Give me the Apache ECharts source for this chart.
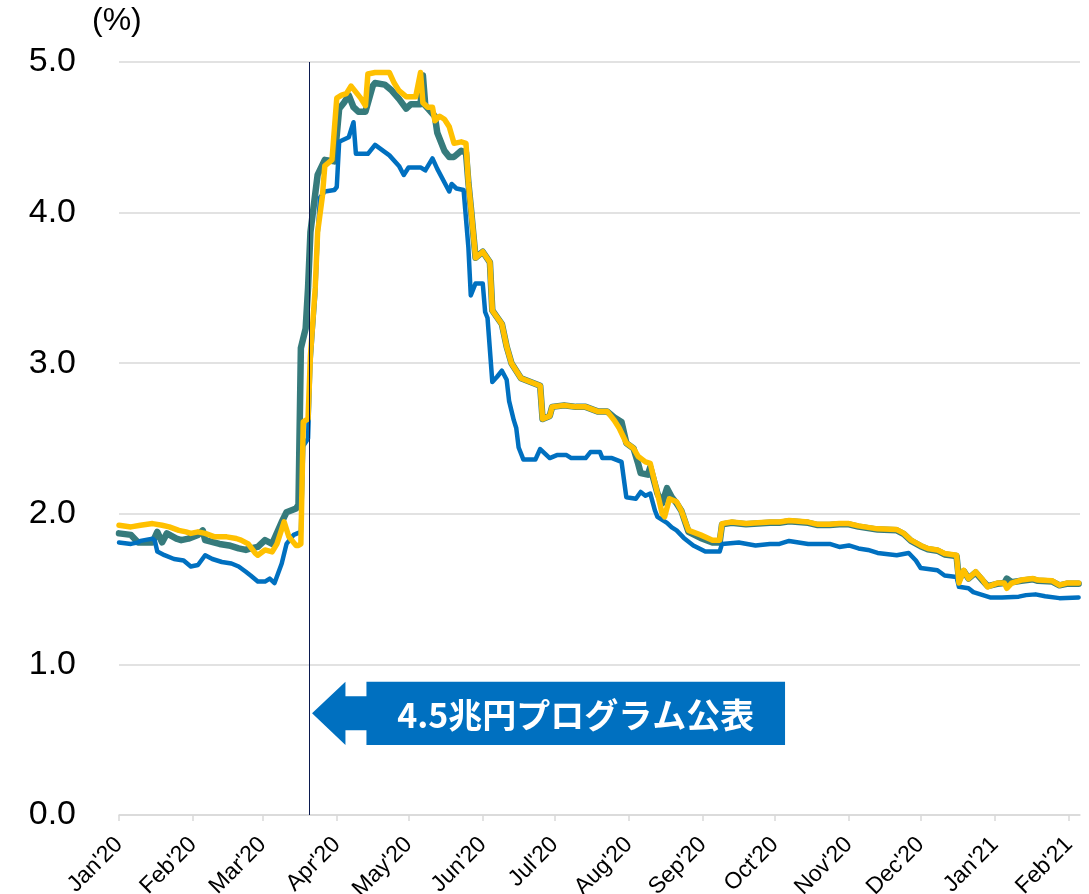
<!DOCTYPE html>
<html>
<head>
<meta charset="utf-8">
<script src="https://cdn.jsdelivr.net/npm/echarts@6/dist/echarts.min.js"></script>
<style>
html,body{margin:0;padding:0;background:#fff;}
#main{width:1089px;height:894px;}
</style>
</head>
<body>
<div id="main"></div>
<script>
// ---- tick labels ----
const monthTickDates = ['2020-01-01','2020-02-01','2020-03-01','2020-04-01','2020-05-01','2020-06-01','2020-07-01','2020-08-01','2020-09-01','2020-10-01','2020-11-01','2020-12-01','2021-01-01','2021-02-01'];
const monthTickLabels = ["Jan'20","Feb'20","Mar'20","Apr'20","May'20","Jun'20","Jul'20","Aug'20","Sep'20","Oct'20","Nov'20","Dec'20","Jan'21","Feb'21"];
const yTicks = [0,1,2,3,4,5];
const unitLabel = '(%)';
const axisStartDate = '2020-01-01';
const axisEndDate = '2021-02-05 14:00';
const annotationDate = '2020-03-20 10:00';
const annotationText = '4.5兆円プログラム公表';

// ---- series values (date, %) ----
const blueSeries = [
['2020-01-01',1.81],['2020-01-06',1.80],['2020-01-09',1.81],['2020-01-10',1.82],['2020-01-15',1.835],['2020-01-16',1.82],
['2020-01-17',1.75],['2020-01-20',1.725],['2020-01-24',1.70],['2020-01-28',1.69],['2020-01-31',1.65],['2020-02-03',1.66],
['2020-02-06',1.725],['2020-02-09',1.70],['2020-02-13',1.68],['2020-02-17',1.67],['2020-02-20',1.65],['2020-02-23',1.615],
['2020-02-25',1.59],['2020-02-28',1.55],['2020-03-02',1.55],['2020-03-04',1.57],['2020-03-06',1.54],['2020-03-09',1.67],
['2020-03-11',1.80],['2020-03-14',1.86],['2020-03-17',1.88],['2020-03-18',2.45],['2020-03-20',2.50],['2020-03-21',3.00],
['2020-03-23',3.45],['2020-03-24',3.85],['2020-03-25',4.10],['2020-03-27',4.14],['2020-03-31',4.15],['2020-04-01',4.17],
['2020-04-02',4.47],['2020-04-06',4.50],['2020-04-08',4.60],['2020-04-09',4.39],['2020-04-14',4.39],['2020-04-17',4.45],
['2020-04-23',4.38],['2020-04-27',4.31],['2020-04-29',4.25],['2020-05-01',4.30],['2020-05-06',4.30],['2020-05-08',4.28],
['2020-05-11',4.36],['2020-05-13',4.29],['2020-05-18',4.14],['2020-05-19',4.19],['2020-05-21',4.16],['2020-05-24',4.15],
['2020-05-26',3.77],['2020-05-27',3.45],['2020-05-29',3.53],['2020-06-01',3.53],['2020-06-02',3.34],['2020-06-03',3.30],
['2020-06-05',2.875],['2020-06-07',2.91],['2020-06-09',2.95],['2020-06-11',2.89],['2020-06-12',2.75],['2020-06-14',2.62],
['2020-06-15',2.57],['2020-06-16',2.44],['2020-06-18',2.36],['2020-06-23',2.36],['2020-06-25',2.43],['2020-06-29',2.37],
['2020-07-02',2.39],['2020-07-06',2.39],['2020-07-08',2.37],['2020-07-14',2.37],['2020-07-16',2.41],['2020-07-20',2.41],
['2020-07-21',2.37],['2020-07-25',2.37],['2020-07-29',2.345],['2020-07-31',2.11],['2020-08-04',2.10],['2020-08-06',2.145],
['2020-08-08',2.12],['2020-08-10',2.135],['2020-08-12',2.02],['2020-08-13',1.98],['2020-08-17',1.94],['2020-08-19',1.91],
['2020-08-21',1.89],['2020-08-24',1.84],['2020-08-28',1.79],['2020-09-02',1.75],['2020-09-08',1.75],['2020-09-09',1.80],
['2020-09-16',1.81],['2020-09-23',1.79],['2020-09-29',1.80],['2020-10-03',1.80],['2020-10-07',1.82],['2020-10-11',1.81],
['2020-10-15',1.80],['2020-10-19',1.80],['2020-10-24',1.80],['2020-10-28',1.78],['2020-11-01',1.79],['2020-11-05',1.77],
['2020-11-09',1.76],['2020-11-13',1.74],['2020-11-21',1.725],['2020-11-26',1.74],['2020-11-29',1.69],['2020-12-01',1.64],
['2020-12-08',1.625],['2020-12-11',1.59],['2020-12-16',1.58],['2020-12-17',1.515],['2020-12-21',1.505],['2020-12-23',1.48],
['2020-12-30',1.445],['2021-01-04',1.445],['2021-01-11',1.45],['2021-01-14',1.46],['2021-01-18',1.465],['2021-01-22',1.453],
['2021-01-28',1.44],['2021-02-05',1.445]
];

const tealSeries = [
['2020-01-01',1.87],['2020-01-06',1.86],['2020-01-09',1.81],['2020-01-15',1.81],['2020-01-17',1.88],['2020-01-19',1.81],
['2020-01-21',1.87],['2020-01-25',1.835],['2020-01-27',1.825],['2020-01-30',1.835],['2020-02-03',1.86],['2020-02-05',1.89],
['2020-02-06',1.825],['2020-02-12',1.80],['2020-02-16',1.79],['2020-02-20',1.77],['2020-02-23',1.76],['2020-02-25',1.77],
['2020-02-28',1.78],['2020-03-02',1.825],['2020-03-05',1.80],['2020-03-09',1.946],['2020-03-11',2.01],['2020-03-15',2.035],
['2020-03-16',2.06],['2020-03-17',3.10],['2020-03-19',3.23],['2020-03-20',3.50],['2020-03-21',3.87],['2020-03-24',4.25],
['2020-03-27',4.35],['2020-03-31',4.34],['2020-04-02',4.69],['2020-04-04',4.73],['2020-04-06',4.78],['2020-04-08',4.70],
['2020-04-10',4.67],['2020-04-13',4.67],['2020-04-16',4.84],['2020-04-17',4.86],['2020-04-21',4.85],['2020-04-24',4.81],
['2020-04-27',4.755],['2020-04-30',4.69],['2020-05-02',4.72],['2020-05-06',4.72],['2020-05-07',4.91],['2020-05-08',4.71],
['2020-05-12',4.64],['2020-05-13',4.53],['2020-05-16',4.41],['2020-05-18',4.37],['2020-05-20',4.37],['2020-05-23',4.41],
['2020-05-25',4.40],['2020-05-26',4.20],['2020-05-27',4.04],['2020-05-29',3.70],['2020-06-01',3.74],['2020-06-04',3.67],
['2020-06-05',3.35],['2020-06-09',3.26],['2020-06-11',3.11],['2020-06-13',3.00],['2020-06-17',2.90],['2020-06-21',2.875],
['2020-06-25',2.85],['2020-06-26',2.63],['2020-06-29',2.65],['2020-06-30',2.71],['2020-07-05',2.72],['2020-07-10',2.71],
['2020-07-14',2.71],['2020-07-19',2.68],['2020-07-23',2.68],['2020-07-26',2.64],['2020-07-29',2.61],['2020-07-31',2.47],
['2020-08-03',2.435],['2020-08-05',2.33],['2020-08-06',2.27],['2020-08-09',2.26],['2020-08-10',2.31],['2020-08-13',2.135],
['2020-08-15',2.07],['2020-08-17',2.17],['2020-08-19',2.11],['2020-08-21',2.07],['2020-08-23',2.02],['2020-08-26',1.88],
['2020-08-31',1.84],['2020-09-05',1.81],['2020-09-08',1.81],['2020-09-09',1.93],['2020-09-13',1.94],['2020-09-19',1.93],
['2020-09-24',1.935],['2020-09-29',1.94],['2020-10-03',1.94],['2020-10-07',1.95],['2020-10-11',1.945],['2020-10-15',1.94],
['2020-10-19',1.925],['2020-10-24',1.925],['2020-10-28',1.93],['2020-11-01',1.93],['2020-11-05',1.915],['2020-11-09',1.905],
['2020-11-13',1.895],['2020-11-21',1.89],['2020-11-24',1.865],['2020-11-27',1.82],['2020-12-01',1.785],['2020-12-04',1.765],
['2020-12-08',1.755],['2020-12-11',1.73],['2020-12-16',1.72],['2020-12-17',1.56],['2020-12-19',1.62],['2020-12-21',1.57],
['2020-12-24',1.61],['2020-12-27',1.555],['2020-12-29',1.52],['2021-01-02',1.535],['2021-01-05',1.54],['2021-01-06',1.57],
['2021-01-08',1.545],['2021-01-12',1.555],['2021-01-17',1.565],['2021-01-19',1.555],['2021-01-25',1.55],['2021-01-28',1.525],
['2021-01-31',1.535],['2021-02-05',1.535]
];

const yellowSeries = [
['2020-01-01',1.924],['2020-01-06',1.913],['2020-01-10',1.924],['2020-01-15',1.935],['2020-01-19',1.924],['2020-01-22',1.913],
['2020-01-26',1.89],['2020-01-29',1.88],['2020-01-31',1.87],['2020-02-03',1.88],['2020-02-06',1.87],['2020-02-10',1.847],
['2020-02-15',1.847],['2020-02-19',1.836],['2020-02-21',1.825],['2020-02-24',1.80],['2020-02-27',1.737],['2020-02-28',1.725],
['2020-03-02',1.76],['2020-03-05',1.747],['2020-03-07',1.80],['2020-03-10',1.946],['2020-03-12',1.847],['2020-03-15',1.79],
['2020-03-16',1.79],['2020-03-17',1.80],['2020-03-18',2.61],['2020-03-20',2.63],['2020-03-21',3.05],['2020-03-23',3.50],
['2020-03-24',3.87],['2020-03-26',4.11],['2020-03-27',4.31],['2020-03-30',4.35],['2020-04-01',4.76],['2020-04-03',4.78],
['2020-04-05',4.79],['2020-04-07',4.84],['2020-04-09',4.80],['2020-04-11',4.76],['2020-04-13',4.71],['2020-04-14',4.92],
['2020-04-17',4.93],['2020-04-23',4.93],['2020-04-25',4.86],['2020-04-27',4.81],['2020-04-30',4.77],['2020-05-02',4.77],
['2020-05-04',4.77],['2020-05-06',4.93],['2020-05-07',4.73],['2020-05-09',4.70],['2020-05-11',4.70],['2020-05-12',4.61],
['2020-05-14',4.64],['2020-05-16',4.62],['2020-05-18',4.57],['2020-05-20',4.46],['2020-05-23',4.47],['2020-05-25',4.46],
['2020-05-26',4.20],['2020-05-27',4.04],['2020-05-29',3.70],['2020-06-01',3.74],['2020-06-04',3.67],['2020-06-05',3.35],
['2020-06-09',3.26],['2020-06-11',3.11],['2020-06-13',3.00],['2020-06-17',2.90],['2020-06-21',2.875],['2020-06-25',2.85],
['2020-06-26',2.63],['2020-06-29',2.65],['2020-06-30',2.71],['2020-07-05',2.72],['2020-07-10',2.71],['2020-07-14',2.71],
['2020-07-19',2.68],['2020-07-23',2.68],['2020-07-26',2.62],['2020-07-28',2.57],['2020-07-31',2.47],['2020-08-03',2.435],
['2020-08-05',2.38],['2020-08-08',2.345],['2020-08-10',2.335],['2020-08-13',2.135],['2020-08-15',2.00],['2020-08-16',1.98],
['2020-08-18',2.10],['2020-08-21',2.08],['2020-08-23',2.02],['2020-08-26',1.89],['2020-08-31',1.86],['2020-09-05',1.825],
['2020-09-08',1.825],['2020-09-09',1.935],['2020-09-13',1.946],['2020-09-19',1.935],['2020-09-24',1.94],['2020-09-29',1.946],
['2020-10-03',1.946],['2020-10-07',1.955],['2020-10-11',1.95],['2020-10-15',1.945],['2020-10-19',1.93],['2020-10-24',1.93],
['2020-10-28',1.935],['2020-11-01',1.935],['2020-11-05',1.92],['2020-11-09',1.91],['2020-11-13',1.90],['2020-11-21',1.895],
['2020-11-24',1.87],['2020-11-27',1.825],['2020-12-01',1.79],['2020-12-04',1.77],['2020-12-08',1.76],['2020-12-11',1.737],
['2020-12-16',1.725],['2020-12-17',1.54],['2020-12-19',1.625],['2020-12-21',1.57],['2020-12-24',1.615],['2020-12-27',1.56],
['2020-12-29',1.515],['2021-01-02',1.54],['2021-01-05',1.54],['2021-01-06',1.505],['2021-01-08',1.54],['2021-01-12',1.56],
['2021-01-17',1.57],['2021-01-19',1.56],['2021-01-25',1.555],['2021-01-28',1.526],['2021-01-31',1.54],['2021-02-05',1.54]
];

// ---- date helpers: convert dates to day offsets from the axis start ----
function toUTC(s) {
  const parts = s.split(' ');
  const d = parts[0].split('-').map(Number);
  let h = 0, m = 0;
  if (parts[1]) { const t = parts[1].split(':').map(Number); h = t[0]; m = t[1] || 0; }
  return Date.UTC(d[0], d[1] - 1, d[2], h, m);
}
const DAY = 86400000;
const origin = toUTC(axisStartDate);
function dayOf(s) { return (toUTC(s) - origin) / DAY; }

const tickDays = monthTickDates.map(dayOf);
const labelByDay = {};
tickDays.forEach((d, i) => { labelByDay[d] = monthTickLabels[i]; });
function toXY(arr) { return arr.map(p => [dayOf(p[0]), p[1]]); }

const chart = echarts.init(document.getElementById('main'), null, {renderer: 'canvas'});
const baseFont = '"Liberation Sans", Arial, sans-serif';

const option = {
  animation: false,
  backgroundColor: '#ffffff',
  grid: {left: 119, right: 9, top: 62, bottom: 79, containLabel: false, outerBoundsMode: 'none'},
  xAxis: {
    type: 'value',
    min: 0,
    max: dayOf(axisEndDate),
    axisLine: {show: true, lineStyle: {color: '#d9d9d9', width: 1.5}},
    axisTick: {show: true, customValues: tickDays, length: 6, lineStyle: {color: '#d9d9d9', width: 1.5}},
    axisLabel: {
      customValues: tickDays,
      rotate: 45,
      margin: 26,
      fontSize: 23,
      color: '#000',
      fontFamily: baseFont,
      formatter: function (val) {
        const k = Math.round(val);
        return labelByDay[k] !== undefined ? labelByDay[k] : '';
      }
    },
    splitLine: {show: false}
  },
  yAxis: {
    type: 'value',
    min: 0,
    max: 5,
    interval: 1,
    axisLine: {show: false},
    axisTick: {show: false},
    axisLabel: {
      margin: 43,
      fontSize: 34,
      color: '#000',
      fontFamily: baseFont,
      formatter: function (v) { return yTicks.indexOf(v) >= 0 ? v.toFixed(1) : ''; }
    },
    splitLine: {show: true, lineStyle: {color: '#d9d9d9', width: 1.5}}
  },
  series: [
    {
      name: 'teal', type: 'line', data: toXY(tealSeries), showSymbol: false, symbol: 'none',
      lineStyle: {color: '#367B7C', width: 6.5, join: 'round', cap: 'round'}, z: 2
    },
    {
      name: 'blue', type: 'line', data: toXY(blueSeries), showSymbol: false, symbol: 'none',
      lineStyle: {color: '#0070C0', width: 4.5, join: 'round', cap: 'round'}, z: 3,
      markLine: {
        silent: true, symbol: 'none', animation: false,
        label: {show: false},
        lineStyle: {color: '#0b1a4f', width: 1, type: 'solid'},
        data: [{xAxis: dayOf(annotationDate)}]
      }
    },
    {
      name: 'yellow', type: 'line', data: toXY(yellowSeries), showSymbol: false, symbol: 'none',
      lineStyle: {color: '#FFC000', width: 5.5, join: 'round', cap: 'round'}, z: 4
    }
  ]
};
chart.setOption(option);

// annotation arrow, positioned from the data coordinate of the announcement line
const tip = chart.convertToPixel({gridIndex: 0}, [dayOf(annotationDate), 0.675]);
const tx = tip[0] + 3, ty = tip[1];
const headW = 33.4, halfH = 31.6, shaftHalf = 17, shaftEnd = 54.4, boxRight = 473;
const pts = [
  [tx, ty],
  [tx + headW, ty - halfH],
  [tx + headW, ty - shaftHalf],
  [tx + shaftEnd, ty - shaftHalf],
  [tx + shaftEnd, ty - halfH],
  [tx + boxRight, ty - halfH],
  [tx + boxRight, ty + halfH],
  [tx + shaftEnd, ty + halfH],
  [tx + shaftEnd, ty + shaftHalf],
  [tx + headW, ty + shaftHalf],
  [tx + headW, ty + halfH]
];
chart.setOption({
  graphic: [
    {
      type: 'text', left: 92, top: 5,
      style: {text: unitLabel, fontSize: 32, fill: '#000', fontFamily: baseFont}
    },
    {
      type: 'polygon', z: 10,
      shape: {points: pts},
      style: {fill: '#0070C0', stroke: null}
    },
    {
      type: 'text', z: 11,
      x: tx + (shaftEnd + boxRight) / 2, y: ty + 2,
      style: {
        text: annotationText, fill: '#ffffff', fontSize: 34, fontWeight: 'bold',
        fontFamily: '"Noto Sans CJK JP", "Noto Sans CJK SC", sans-serif',
        align: 'center', verticalAlign: 'middle'
      }
    }
  ]
});
</script>
</body>
</html>
